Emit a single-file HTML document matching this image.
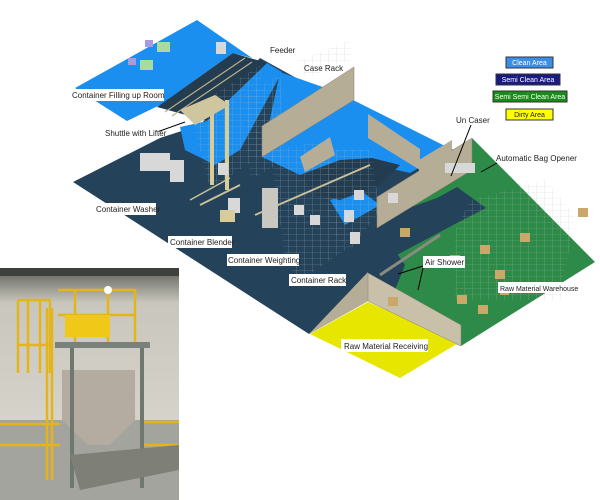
<!DOCTYPE html>
<html><head><meta charset="utf-8"><style>
html,body{margin:0;padding:0;background:#fff;width:600px;height:500px;overflow:hidden}
svg{display:block}
text{font-family:"Liberation Sans",sans-serif;font-size:8px;fill:#222}
.lg{font-size:7px}
</style></head><body>
<svg width="600" height="500" viewBox="0 0 600 500" xmlns="http://www.w3.org/2000/svg">
<defs>
<pattern id="rack" width="8" height="6" patternUnits="userSpaceOnUse">
<path d="M0 0V6M0 0H8" stroke="#b8bcc0" stroke-width="0.6" fill="none"/>
</pattern>
<linearGradient id="ph" x1="0" y1="0" x2="0" y2="1">
<stop offset="0" stop-color="#5c5e58"/><stop offset="0.15" stop-color="#c9c7bd"/><stop offset="0.75" stop-color="#d8d6cc"/><stop offset="1" stop-color="#8a8a86"/>
</linearGradient>
</defs>

<!-- navy floor -->
<polygon points="73,182 160,138 200,125 260,58 400,135 455,150 380,228 405,245 410,268 395,290 368,301 309,334" fill="#24435a"/>
<!-- upper blue clean room -->
<polygon points="197,20 75,88 127,121 160,105 233,53 252,58" fill="#1a8ff0"/>
<!-- dark strip -->
<polygon points="157,107 233,53 267,63 208,121" fill="#243c50"/>
<line x1="165" y1="112" x2="245" y2="58" stroke="#b8b08a" stroke-width="1.2"/>
<line x1="172" y1="116" x2="252" y2="62" stroke="#b8b08a" stroke-width="1.2"/>
<!-- lower blue under strip -->
<polygon points="207,121 267,63 282,72 240,150 215,165 185,150 180,127" fill="#1a8ff0"/>
<!-- right blue clean -->
<polygon points="280,72 337,92 451,149 410,173 375,165 300,175 262,157" fill="#1a8ff0"/>
<polygon points="330,200 360,190 380,205 345,225" fill="#1a8ff0"/>
<!-- inner dark channel in blue -->
<polygon points="300,175 340,160 372,158 400,165 380,185 340,200 315,195" fill="#243c50"/>
<!-- green -->
<polygon points="377,225 472,138 595,262 461,346 440,338 415,320 395,290 405,265" fill="#2e8a48"/>
<polygon points="380,218 437,198 457,187 486,208 455,224 378,265 370,252" fill="#24435a"/>
<!-- yellow -->
<polygon points="310,334 368,302 460,342 400,378" fill="#e6e600"/>

<!-- racks -->
<g opacity="0.6">
<polygon points="190,110 260,65 268,150 210,190" fill="url(#rack)"/>
<polygon points="245,95 280,75 285,160 250,180" fill="url(#rack)"/>
<polygon points="270,150 330,140 345,250 300,280 285,260" fill="url(#rack)"/>
<polygon points="320,150 370,150 380,210 350,250 330,230" fill="url(#rack)"/>
<polygon points="470,200 545,180 575,215 560,300 500,300 455,300 455,230" fill="url(#rack)"/>
<polygon points="300,60 350,40 352,60 305,78" fill="url(#rack)"/>
</g>
<!-- conveyors -->
<line x1="255" y1="215" x2="370" y2="165" stroke="#c8c09a" stroke-width="2"/>
<line x1="380" y1="275" x2="440" y2="235" stroke="#8a8a80" stroke-width="3"/>
<line x1="200" y1="205" x2="240" y2="185" stroke="#c8c09a" stroke-width="2"/>
<line x1="190" y1="200" x2="230" y2="178" stroke="#c8c09a" stroke-width="1.5"/>
<!-- lifter -->
<rect x="210" y="105" width="4" height="80" fill="#d8cc98"/>
<rect x="225" y="100" width="4" height="90" fill="#d8cc98"/>
<polygon points="180,110 215,95 230,105 195,125" fill="#cfc6a0"/>

<!-- walls -->
<polygon points="262,126 354,67 354,100 262,157" fill="#b5ad96" stroke="#8a826e" stroke-width="0.5"/>
<polygon points="368,114 420,149 420,170 368,138" fill="#b5ad96"/>
<polygon points="300,157 330,137 335,155 305,172" fill="#b5ad96"/>
<polygon points="472,138 377,197 377,228 472,170" fill="#b5ad96" stroke="#8a826e" stroke-width="0.5"/>
<polygon points="309,334 368,272 368,301" fill="#b5ad96"/>
<polygon points="368,273 461,325 461,346 368,301" fill="#c8c0a8" stroke="#8a826e" stroke-width="0.5"/>
<polygon points="419,160 452,140 452,170 419,190" fill="#b5ad96"/>

<!-- equipment -->
<g fill="#a9dba0"><rect x="157" y="42" width="13" height="10"/><rect x="140" y="60" width="13" height="10"/></g>
<g fill="#a89ae0"><rect x="145" y="40" width="8" height="7"/><rect x="128" y="58" width="8" height="7"/></g>
<g fill="#d8d8d8"><rect x="216" y="42" width="10" height="12"/><rect x="140" y="153" width="30" height="18"/><rect x="170" y="160" width="14" height="22"/><rect x="218" y="163" width="10" height="12"/><rect x="228" y="198" width="12" height="15"/><rect x="294" y="205" width="10" height="10"/><rect x="310" y="215" width="10" height="10"/><rect x="344" y="210" width="10" height="12"/><rect x="350" y="232" width="10" height="12"/><rect x="354" y="190" width="10" height="10"/><rect x="388" y="193" width="10" height="10"/><rect x="445" y="163" width="30" height="10"/></g>
<rect x="220" y="210" width="15" height="12" fill="#d8cc98"/>
<rect x="262" y="188" width="16" height="40" fill="#c8c8c0"/>
<g fill="#c9a86a"><rect x="400" y="228" width="10" height="9"/><rect x="520" y="233" width="10" height="9"/><rect x="480" y="245" width="10" height="9"/><rect x="450" y="255" width="10" height="9"/><rect x="495" y="270" width="10" height="9"/><rect x="538" y="282" width="10" height="9"/><rect x="457" y="295" width="10" height="9"/><rect x="478" y="305" width="10" height="9"/><rect x="388" y="297" width="10" height="9"/><rect x="578" y="208" width="10" height="9"/><rect x="500" y="287" width="9" height="8"/></g>

<!-- photo -->
<rect x="0" y="268" width="179" height="232" fill="url(#ph)"/>
<rect x="0" y="268" width="179" height="8" fill="#3e403c"/>
<rect x="0" y="420" width="179" height="80" fill="#a4a49e"/>
<g stroke="#e4b418" stroke-width="2.5" fill="none">
<path d="M18 300 H50 M18 300 V373 M18 345 H50 M28 300 V373 M40 300 V373 M50 300 V373"/>
<path d="M52 308 V480 M47 308 V480"/>
<path d="M58 290 H135 V345 M75 290 V345 M108 290 V345 M58 315 H135"/>
<path d="M0 424 H60 M0 445 H60 M140 422 H179 M140 445 H179"/>
</g>
<rect x="65" y="315" width="45" height="22" fill="#f0c818"/>
<rect x="55" y="342" width="95" height="6" fill="#7a807a"/>
<polygon points="62,370 135,370 135,420 110,445 88,445 62,420" fill="#b4aca0"/>
<rect x="70" y="348" width="4" height="140" fill="#6e786e"/>
<rect x="140" y="348" width="4" height="140" fill="#6e786e"/>
<polygon points="70,455 179,445 179,470 80,490" fill="#7e8078"/>
<circle cx="108" cy="290" r="4" fill="#fff"/>

<!-- arrows -->
<g stroke="#000" stroke-width="1">
<line x1="157" y1="132" x2="185" y2="122"/>
<line x1="471" y1="125" x2="451" y2="176"/>
<line x1="497" y1="163" x2="481" y2="172"/>
<line x1="423" y1="266" x2="398" y2="274"/>
<line x1="423" y1="268" x2="418" y2="290"/>
</g>

<!-- labels -->
<g fill="#fff">
<rect x="70" y="89" width="94" height="12"/><rect x="103" y="127" width="56" height="12"/>
<rect x="94" y="203" width="62" height="12"/><rect x="168" y="236" width="64" height="12"/>
<rect x="227" y="254" width="72" height="12"/><rect x="289" y="274" width="57" height="12"/>
<rect x="423" y="256" width="42" height="12"/><rect x="498" y="282" width="78" height="11"/>
<rect x="341" y="339" width="87" height="13"/>
</g>
<text x="72" y="98">Container Filling up Room</text>
<text x="105" y="136">Shuttle with Lifter</text>
<text x="96" y="212">Container Washer</text>
<text x="170" y="245">Container Blender</text>
<text x="228" y="263">Container Weighting</text>
<text x="291" y="283">Container Rack</text>
<text x="270" y="53">Feeder</text>
<text x="304" y="71">Case Rack</text>
<text x="456" y="123">Un Caser</text>
<text x="496" y="161">Automatic Bag Opener</text>
<text x="425" y="265">Air Shower</text>
<text x="500" y="291" style="font-size:7px">Raw Material Warehouse</text>
<text x="344" y="349">Raw Material Receiving</text>

<!-- legend -->
<rect x="506" y="57" width="47" height="11" fill="#3a8ee8" stroke="#333" stroke-width="1"/>
<text class="lg" x="529.5" y="65" text-anchor="middle" style="fill:#fff">Clean Area</text>
<rect x="496" y="74" width="64" height="11" fill="#1a1a80" stroke="#333" stroke-width="1"/>
<text class="lg" x="528" y="82" text-anchor="middle" style="fill:#fff">Semi Clean Area</text>
<rect x="493" y="91" width="74" height="11" fill="#1a8a1a" stroke="#333" stroke-width="1"/>
<text class="lg" x="530" y="99" text-anchor="middle" style="fill:#fff">Semi Semi Clean Area</text>
<rect x="506" y="109" width="47" height="11" fill="#ffff00" stroke="#333" stroke-width="1"/>
<text class="lg" x="529.5" y="117" text-anchor="middle">Dirty Area</text>
</svg>
</body></html>
